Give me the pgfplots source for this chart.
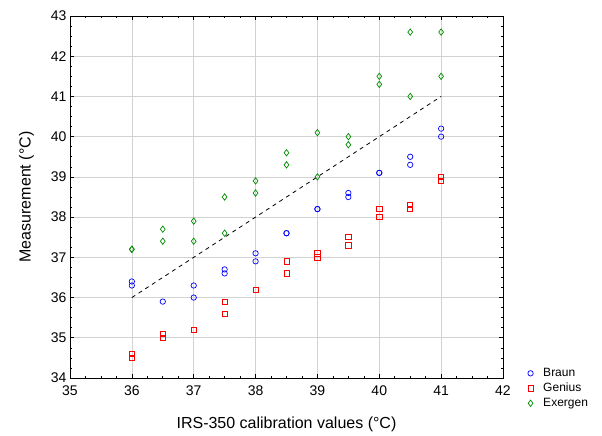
\documentclass[border=0pt]{standalone}
\usepackage{fontspec}
\setmainfont{Liberation Sans}
\usepackage{pgfplots}
\pgfplotsset{compat=1.18}
\definecolor{exgreen}{RGB}{0,140,0}
\definecolor{brblue}{RGB}{0,0,255}
\definecolor{gered}{RGB}{255,0,0}
\begin{document}
\begin{tikzpicture}[x=1pt,y=1pt]
\useasboundingbox (-70,-58) rectangle (532,378);
\begin{axis}[
    scale only axis,
    width=433pt, height=362pt,
    xmin=35, xmax=42, ymin=34, ymax=43,
    xtick={35,...,42}, ytick={34,...,43},
    minor x tick num=3, minor y tick num=3,
    tick align=inside,
    major tick length=4pt, minor tick length=2pt,
    grid=major,
    major grid style={gray!35, line width=0.6pt},
    axis line style={black, line width=0.9pt},
    tick style={black, line width=0.6pt},
    /pgf/number format/assume math mode=true,
    ticklabel style={font=\fontsize{14}{16}\selectfont},
    xticklabel style={yshift=-4pt},
    xlabel={IRS-350 calibration values (°C)},
    ylabel={Measurement (°C)},
    label style={font=\fontsize{16}{18}\selectfont},
    xlabel style={yshift=-15pt},
    ylabel style={yshift=10pt},
    legend style={at={(1.05,0.038)}, anchor=north west, draw=none, fill=none,
        font=\fontsize{12}{14}\selectfont, row sep=1pt, column sep=8pt},
    legend cell align=left,
    clip=false,
]
\addplot[black, dash pattern=on 4pt off 4pt, line width=0.8pt, forget plot] coordinates {(36,36) (41,41)};
\addplot[only marks, mark=o, draw=brblue, mark size=2.7pt,
    mark options={draw=brblue, fill=none, line width=0.7pt, solid}] coordinates {
(36,36.4) (36,36.3) (36.5,35.9) (37,36.3) (37,36.0) (37.5,36.7) (37.5,36.6)
(38,37.1) (38,36.9) (38.5,37.6) (38.5,37.6) (39,38.2) (39,38.2) (39.5,38.6) (39.5,38.5)
(40,39.1) (40,39.1) (40.5,39.5) (40.5,39.3) (41,40.2) (41,40.0)};
\addlegendentry{Braun}
\addplot[only marks, mark=square, draw=gered, mark size=2.6pt,
    mark options={draw=gered, fill=none, line width=0.7pt, solid}] coordinates {
(36,34.6) (36,34.5) (36.5,35.1) (36.5,35.0) (37,35.2) (37,35.2) (37.5,35.9) (37.5,35.6)
(38,36.2) (38,36.2) (38.5,36.9) (38.5,36.6) (39,37.1) (39,37.0) (39.5,37.5) (39.5,37.3)
(40,38.2) (40,38.0) (40.5,38.3) (40.5,38.2) (41,39.0) (41,38.9)};
\addlegendentry{Genius}
\addplot[only marks, mark=diamond, draw=exgreen, mark size=3.2pt,
    mark options={draw=exgreen, fill=none, line width=0.7pt, solid}] coordinates {
(36,37.2) (36,37.2) (36.5,37.7) (36.5,37.4) (37,37.9) (37,37.4) (37.5,38.5) (37.5,37.6)
(38,38.9) (38,38.6) (38.5,39.6) (38.5,39.3) (39,40.1) (39,39.0) (39.5,40.0) (39.5,39.8)
(40,41.5) (40,41.3) (40.5,42.6) (40.5,41.0) (41,42.6) (41,41.5)};
\addlegendentry{Exergen}
\end{axis}
\end{tikzpicture}
\end{document}
